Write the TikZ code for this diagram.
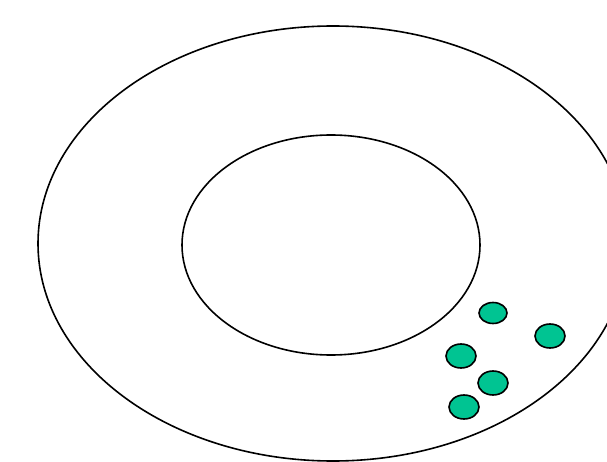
\documentclass[tikz,border=0pt]{standalone}
\usetikzlibrary{shapes.geometric}
\definecolor{dotgreen}{RGB}{0,196,146}
\begin{document}
\begin{tikzpicture}[x=1pt,y=-1pt,
  ring/.style={draw=black,line width=1.6pt},
  seed/.style={ellipse,draw=black,fill=dotgreen,line width=1.6pt,inner sep=0pt,minimum width=30pt,minimum height=24pt}]
\useasboundingbox (0,0) rectangle (607,462);
\clip (0,0) rectangle (607,462);
\fill[white] (0,0) rectangle (607,462);
\draw[ring] (333,243.5) ellipse [x radius=295, y radius=217.5];
\draw[ring] (331,245) ellipse [x radius=149, y radius=110];
\path (493,313) node[seed,minimum width=28pt,minimum height=21pt] (d1) {}
      (550,336) node[seed] (d2) {}
      (461,356) node[seed] (d3) {}
      (493,383) node[seed] (d4) {}
      (464,407) node[seed] (d5) {};
\end{tikzpicture}
\end{document}
